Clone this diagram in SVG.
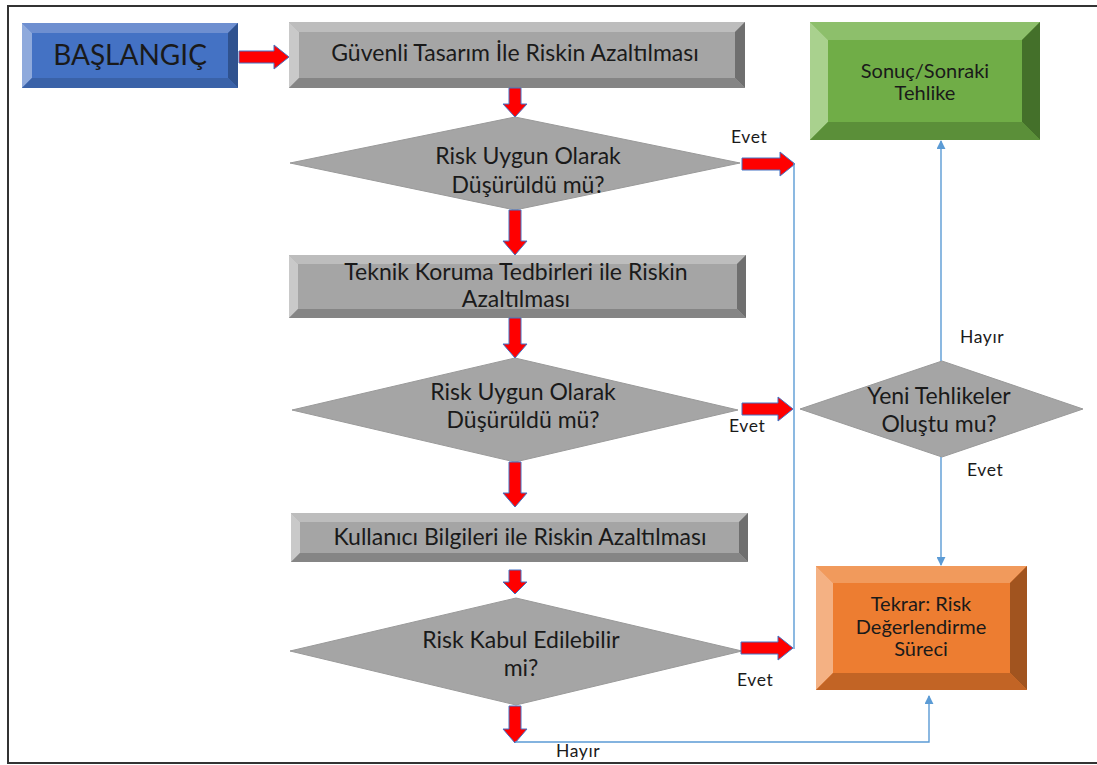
<svg xmlns="http://www.w3.org/2000/svg" width="1097" height="765" viewBox="0 0 1097 765">
  <defs>
    <style>
      text { font-family: Lato, "Open Sans", "Liberation Sans", sans-serif; fill: #1a1a1a; text-anchor: middle; }
      .t19 { font-size: 23px; }
      .t17 { font-size: 20px; }
      .lbl { font-size: 17.5px; text-anchor: start; letter-spacing: 0.6px; }
      .redarrow { fill: #ff0000; stroke: #4472c4; stroke-width: 1; }
      .link { fill: none; stroke: #5b9bd5; stroke-width: 1.4; }
      .dia { fill: #a5a5a5; stroke: #9a9a9a; stroke-width: 1; }
      .g-c { fill: #a5a5a5; } .g-t { fill: #bdbdbd; } .g-l { fill: #c9c9c9; } .g-r { fill: #6f6f6f; } .g-b { fill: #858585; }
      .b-c { fill: #4472c4; } .b-t { fill: #6e8fd0; } .b-l { fill: #8faadc; } .b-r { fill: #2f528f; } .b-b { fill: #3a62a8; }
      .gr-c { fill: #70ad47; } .gr-t { fill: #8dbf6b; } .gr-l { fill: #a9d18e; } .gr-r { fill: #44702a; } .gr-b { fill: #5b8f39; }
      .o-c { fill: #ed7d31; } .o-t { fill: #f19a5c; } .o-l { fill: #f4b183; } .o-r { fill: #a1541f; } .o-b { fill: #c26425; }
    </style>
    <marker id="tip" viewBox="0 0 10 10" refX="9" refY="5" markerWidth="9" markerHeight="9" markerUnits="userSpaceOnUse" orient="auto">
      <path d="M0,0 L10,5 L0,10 z" fill="#5b9bd5"/>
    </marker>
  </defs>

  <rect width="1097" height="765" fill="#ffffff"/>
  <!-- outer frame -->
  <path d="M1097,6 H8 V763 H1097" fill="none" stroke="#333" stroke-width="2"/>

  <!-- start -->
  <g id="start">
    <rect class="b-c" x="22" y="23" width="216" height="65"/>
    <polygon class="b-t" points="22,23 238,23 228,33 32,33"/>
    <polygon class="b-l" points="22,23 32,33 32,78 22,88"/>
    <polygon class="b-r" points="238,23 238,88 228,78 228,33"/>
    <polygon class="b-b" points="22,88 32,78 228,78 238,88"/>
    <text x="130" y="65" style="font-size:28px">BAŞLANGIÇ</text>
  </g>

  <!-- step 1 -->
  <g id="design">
    <rect class="g-c" x="289" y="22" width="456" height="66"/>
    <polygon class="g-t" points="289,22 745,22 735,32 299,32"/>
    <polygon class="g-l" points="289,22 299,32 299,78 289,88"/>
    <polygon class="g-r" points="745,22 745,88 735,78 735,32"/>
    <polygon class="g-b" points="289,88 299,78 735,78 745,88"/>
    <text class="t19" x="515" y="61">Güvenli Tasarım İle Riskin Azaltılması</text>
  </g>

  <g id="check1">
    <polygon class="dia" points="515,117 740,163 515,210 290,163"/>
    <text class="t19" x="528" y="164">Risk Uygun Olarak</text>
    <text class="t19" x="528" y="193">Düşürüldü mü?</text>
  </g>

  <!-- step 2 -->
  <g id="technical">
    <rect class="g-c" x="289" y="255" width="457" height="63"/>
    <polygon class="g-t" points="289,255 746,255 737,264 298,264"/>
    <polygon class="g-l" points="289,255 298,264 298,309 289,318"/>
    <polygon class="g-r" points="746,255 746,318 737,309 737,264"/>
    <polygon class="g-b" points="289,318 298,309 737,309 746,318"/>
    <text class="t19" x="516" y="280">Teknik Koruma Tedbirleri ile Riskin</text>
    <text class="t19" x="516" y="307">Azaltılması</text>
  </g>

  <g id="check2">
    <polygon class="dia" points="515,358 738,410 515,462 292,410"/>
    <text class="t19" x="523" y="400">Risk Uygun Olarak</text>
    <text class="t19" x="523" y="428">Düşürüldü mü?</text>
  </g>

  <!-- step 3 -->
  <g id="userinfo">
    <rect class="g-c" x="291" y="513" width="457" height="49"/>
    <polygon class="g-t" points="291,513 748,513 739,522 300,522"/>
    <polygon class="g-l" points="291,513 300,522 300,553 291,562"/>
    <polygon class="g-r" points="748,513 748,562 739,553 739,522"/>
    <polygon class="g-b" points="291,562 300,553 739,553 748,562"/>
    <text class="t19" x="520" y="545">Kullanıcı Bilgileri ile Riskin Azaltılması</text>
  </g>

  <g id="check3">
    <polygon class="dia" points="516,598 742,651 516,705 290,651"/>
    <text class="t19" x="521" y="648">Risk Kabul Edilebilir</text>
    <text class="t19" x="521" y="676">mi?</text>
  </g>

  <g id="newhazards">
    <polygon class="dia" points="942,361 1083,409 942,457 800,409"/>
    <text class="t19" x="939" y="404">Yeni Tehlikeler</text>
    <text class="t19" x="939" y="432">Oluştu mu?</text>
  </g>

  <g id="result">
    <rect class="gr-c" x="810" y="22" width="230" height="118"/>
    <polygon class="gr-t" points="810,22 1040,22 1022,40 828,40"/>
    <polygon class="gr-l" points="810,22 828,40 828,122 810,140"/>
    <polygon class="gr-r" points="1040,22 1040,140 1022,122 1022,40"/>
    <polygon class="gr-b" points="810,140 828,122 1022,122 1040,140"/>
    <text class="t17" x="925" y="78">Sonuç/Sonraki</text>
    <text class="t17" x="925" y="100">Tehlike</text>
  </g>

  <g id="repeat">
    <rect class="o-c" x="816" y="566" width="211" height="124"/>
    <polygon class="o-t" points="816,566 1027,566 1010,583 833,583"/>
    <polygon class="o-l" points="816,566 833,583 833,673 816,690"/>
    <polygon class="o-r" points="1027,566 1027,690 1010,673 1010,583"/>
    <polygon class="o-b" points="816,690 833,673 1010,673 1027,690"/>
    <text class="t17" x="921" y="611">Tekrar: Risk</text>
    <text class="t17" x="921" y="634">Değerlendirme</text>
    <text class="t17" x="921" y="656">Süreci</text>
  </g>

  <g id="connectors">
    <!-- block arrows -->
    <polygon class="redarrow" points="239,51 274,51 274,45 289,57 274,69 274,63 239,63"/>
    <polygon class="redarrow" points="509,88 521,88 521,104 527,104 515,117 503,104 509,104"/>
    <polygon class="redarrow" points="509,210 521,210 521,241 527,241 515,255 503,241 509,241"/>
    <polygon class="redarrow" points="509,318 521,318 521,344 527,344 515,358 503,344 509,344"/>
    <polygon class="redarrow" points="509,462 521,462 521,493 527,493 515,507 503,493 509,493"/>
    <polygon class="redarrow" points="509,570 521,570 521,582 527,582 515,594 503,582 509,582"/>
    <polygon class="redarrow" points="509,706 521,706 521,729 527,729 515,743 503,729 509,729"/>
    <polygon class="redarrow" points="742,158 780,158 780,152 795,164 780,176 780,170 742,170"/>
    <polygon class="redarrow" points="742,403 778,403 778,397 793,409 778,421 778,415 742,415"/>
    <polygon class="redarrow" points="741,642 778,642 778,636 793,648 778,660 778,654 741,654"/>

    <!-- thin links -->
    <path class="link" d="M794,163 V649"/>
    <path class="link" d="M941,361 V141" marker-end="url(#tip)"/>
    <path class="link" d="M941,457 V565" marker-end="url(#tip)"/>
    <path class="link" d="M515,742 H929 V696" marker-end="url(#tip)"/>

    <!-- labels -->
    <text class="lbl" x="731" y="143">Evet</text>
    <text class="lbl" x="729" y="432">Evet</text>
    <text class="lbl" x="737" y="686">Evet</text>
    <text class="lbl" x="960" y="343">Hayır</text>
    <text class="lbl" x="967" y="476">Evet</text>
    <text class="lbl" x="556" y="757">Hayır</text>
  </g>
</svg>
